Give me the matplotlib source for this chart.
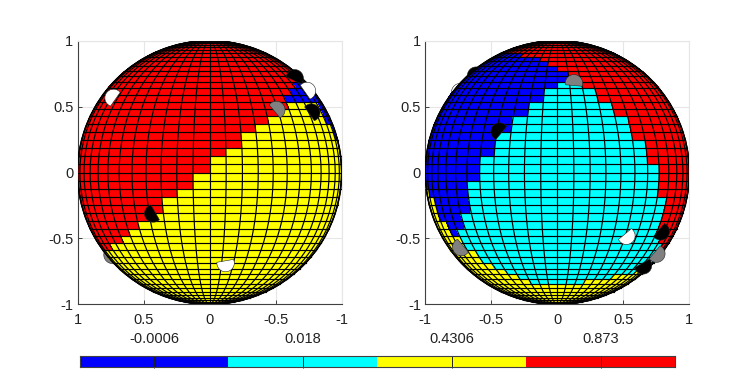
import numpy as np
import matplotlib
matplotlib.use("Agg")
import matplotlib.pyplot as plt
from matplotlib.colors import ListedColormap
from matplotlib.patches import Polygon, Circle

plt.rcParams['font.family'] = ['Liberation Sans', 'DejaVu Sans']

# cell colours: 0 blue, 1 cyan, 2 yellow, 3 red
colors = ['#0000ff', '#00ffff', '#ffff00', '#ff0000']
bar_labels = ['-0.0006', '0.018', '0.4306', '0.873']
ticks = [-1, -0.5, 0, 0.5, 1]
tick_text = ['-1', '-0.5', '0', '0.5', '1']

# grid, rows are 3.6 deg bands, row r covers r*3.6 .. (r+1)*3.6
rows = list(range(-25, 25))
dlat = 3.6
dlon = 7.2

# left globe, edges per row (longitude index), bottom row first
L_red = [13]*15 + [9, 7, 6, 5, 4, 3, 3, 2, 1, 1, 0, 0, -1, -2, -2, -3, -4, -5, -6, -6, -7, -8, -9] + [-13]*12
L_blue = [-13]*28 + [-12, -11, -11, -10, -10, -10, -6, -7, -8, -9] + [-13]*12

# right globe
R_blue = [-13]*17 + [-8, -7, -7, -6, -6, -6, -6, -5, -5, -5, -4, -4, -4, -3, -3, -2, -2, -1, -1, 0, 1, 1, 0, -1, -2, -5] + [-13]*7
R_red = [13]*15 + [10, 9, 8, 8, 8, 8, 8, 7, 7, 7, 7, 6, 6, 6, 5, 5, 5, 4, 4, 3, 3, 2, 1, 1, 0, -1, -2, -5] + [-13]*7
R_yel_l = [13]*9 + [-3, -4, -5, -6, -7, -7, -8, -8, -9, -9, -10, -10, -10, -11, -12] + [-13]*26
R_yel_r = [13]*9 + [3, 6, 9, 13, 13, 13, 13, 13, 13, 13, 13, 13, 13, 13, 13] + [13]*26

# cut discs on the globes: x, y, colour, start angle as seen on the page
L_disc_x = [0.727, -0.505, -0.644, -0.737, -0.770, 0.427, -0.121]
L_disc_y = [0.566, 0.475, 0.715, 0.619, 0.455, -0.311, -0.687]
L_disc_c = ['white', 'gray', 'black', 'white', 'black', 'black', 'white']
L_disc_a = [55, -50, -25, -55, -55, 120, 190]
L_back_x = [0.735, 0.625]
L_back_y = [-0.625, -0.70]
L_back_c = ['gray', 'black']
L_back_a = [130, 130]

R_disc_x = [0.126, -0.437, 0.523, 0.783, 0.75, 0.649, -0.727]
R_disc_y = [0.677, 0.311, -0.480, -0.447, -0.616, -0.705, -0.566]
R_disc_c = ['gray', 'black', 'white', 'black', 'gray', 'black', 'gray']
R_disc_a = [-5, 50, -140, -130, -130, -150, 130]
R_back_x = [-0.735, -0.615]
R_back_y = [0.610, 0.735]
R_back_c = ['white', 'black']
R_back_a = [50, 50]

cmap = ListedColormap(colors)
lon_k = np.concatenate([[-12.5], np.arange(-12, 13), [12.5]])
lat_k = np.array(rows + [25])


def build_left():
    c = np.zeros((len(rows), len(lon_k) - 1), dtype=int)
    mid = (lon_k[:-1] + lon_k[1:]) / 2
    for i in range(len(rows)):
        c[i] = np.where(mid > L_red[i], 3, np.where(mid < L_blue[i], 0, 2))
    return c


def build_right():
    c = np.zeros((len(rows), len(lon_k) - 1), dtype=int)
    mid = (lon_k[:-1] + lon_k[1:]) / 2
    for i in range(len(rows)):
        v = np.where(mid > R_red[i], 3, np.where(mid < R_blue[i], 0, 1))
        v = np.where(mid < R_yel_l[i], 2, v)
        c[i] = np.where(mid > R_yel_r[i], 2, v)
    return c


def add_discs(ax, xs, ys, cs, angs, flip, z):
    r = 0.066
    sgn = -1 if flip else 1
    for x, y, col, a in zip(xs, ys, cs, angs):
        # a bit more than half a disc, straight cut
        t = np.radians(np.linspace(a - 15, a + 195, 40))
        pts = np.column_stack([x + sgn * r * np.cos(t), y + r * np.sin(t)])
        ax.add_patch(Polygon(pts, closed=True, fc=col, ec='#222222', lw=0.4, zorder=z))


def globe(ax, cells, flip):
    lon = np.radians(lon_k * dlon)
    lat = np.radians(np.clip(lat_k * dlat, -90, 90))
    lo, la = np.meshgrid(lon, lat)
    x = np.cos(la) * np.sin(lo)
    y = np.sin(la)
    ax.pcolormesh(x, y, cells, cmap=cmap, vmin=-0.5, vmax=3.5, shading='flat',
                  antialiased=False, zorder=3)
    # mesh lines drawn on their own, the quadmesh edges come out too heavy
    ax.plot(x, y, color='black', lw=0.85, zorder=3.5)
    ax.plot(x.T, y.T, color='black', lw=0.85, zorder=3.5)
    ax.add_patch(Circle((0, 0), 1, fc='none', ec='black', lw=1.0, zorder=3.6))
    ax.set_xlim(1, -1) if flip else ax.set_xlim(-1, 1)
    ax.set_ylim(-1, 1)
    ax.set_xticks(ticks)
    ax.set_xticklabels(tick_text)
    ax.set_yticks(ticks)
    ax.set_yticklabels(tick_text)
    ax.grid(color='#e6e6e6', lw=0.8, zorder=0)
    ax.set_axisbelow(True)
    ax.tick_params(direction='in', length=3, width=0.7, color='#404040', labelcolor='#222222',
                   labelsize=10.5, pad=3)
    ax.tick_params(axis='x', pad=6)
    for s in ['top', 'right']:
        ax.spines[s].set_color('#e6e6e6')
    for s in ['left', 'bottom']:
        ax.spines[s].set_color('#404040')
        ax.spines[s].set_linewidth(0.8)


fig = plt.figure(figsize=(7.39, 3.77), dpi=100)
W, H = 739.0, 377.0

ax1 = fig.add_axes([77.5 / W, 1 - 304.3 / H, 264.2 / W, 263.6 / H])
globe(ax1, build_left(), True)
add_discs(ax1, L_back_x, L_back_y, L_back_c, L_back_a, True, 2)
add_discs(ax1, L_disc_x, L_disc_y, L_disc_c, L_disc_a, True, 4)

ax2 = fig.add_axes([425.2 / W, 1 - 304.3 / H, 264.2 / W, 263.6 / H])
globe(ax2, build_right(), False)
add_discs(ax2, R_back_x, R_back_y, R_back_c, R_back_a, False, 2)
add_discs(ax2, R_disc_x, R_disc_y, R_disc_c, R_disc_a, False, 4)

# colour bar
cax = fig.add_axes([79.5 / W, 1 - 367 / H, 595.5 / W, 11.5 / H])
cax.pcolormesh([0, 1, 2, 3, 4], [0, 1], [[0, 1, 2, 3]], cmap=cmap, vmin=-0.5, vmax=3.5)
cax.set_xlim(0, 4)
cax.set_ylim(0, 1)
cax.set_yticks([])
cax.xaxis.tick_top()
cax.set_xticks([0.5, 1.5, 2.5, 3.5])
cax.set_xticklabels(bar_labels)
cax.tick_params(direction='in', length=8.3, width=0.7, color='#222222', labelcolor='#222222',
                labelsize=10.5, pad=7)
for s in cax.spines.values():
    s.set_color('#404040')
    s.set_linewidth(0.8)

fig.savefig('out.png', dpi=100)
